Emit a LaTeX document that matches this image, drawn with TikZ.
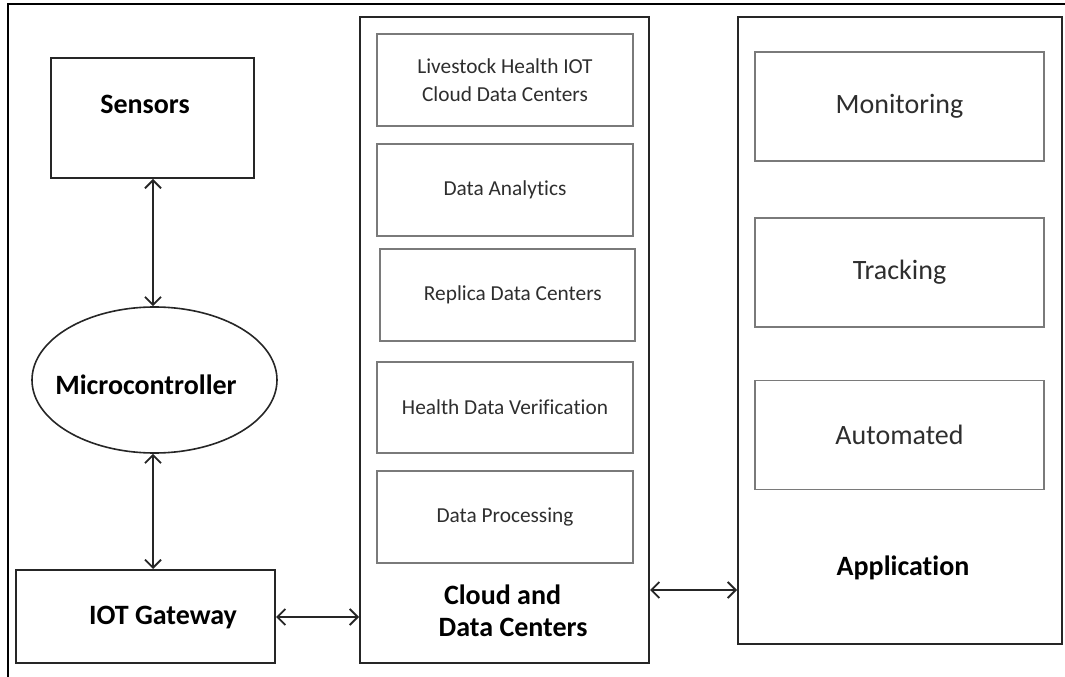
\documentclass[tikz,border=0pt]{standalone}
\usepackage{fontspec}
\setmainfont[Ligatures={NoCommon}]{Carlito}
\usepackage{tikz}
\usetikzlibrary{arrows.meta, shapes.geometric}

\definecolor{edgegray}{HTML}{262626}
\definecolor{innergray}{HTML}{7A7A7A}
\definecolor{txtgray}{HTML}{2E2E2E}

\tikzset{
  outerbox/.style={draw=edgegray, line width=1.5pt, rectangle, inner sep=0pt},
  innerbox/.style={draw=innergray, line width=1.1pt, rectangle, inner sep=0pt,
                   text=txtgray, align=center},
  bigtxt/.style={font=\fontsize{21}{24}\selectfont\bfseries, text=black},
  cloudtxt/.style={font=\fontsize{16}{21}\selectfont},
  apptxt/.style={font=\fontsize{21}{24}\selectfont},
  link/.style={<->, >={Straight Barb[length=6pt, width=12pt, line width=1.4pt]},
               draw=edgegray, line width=1.5pt}
}

\begin{document}
\begin{tikzpicture}[x=0.75pt, y=-0.75pt]
  \useasboundingbox (0,0) rectangle (1065,677);
  % frame
  \draw[black, line width=1.5pt] (8,677) -- (8,4) -- (1065,4);

  % left column
  \node[outerbox, minimum width=152.25pt, minimum height=90pt] (sensors) at (152.5,118) {};
  \node[bigtxt] (sensorslbl) at (145,104) {Sensors};
  \node[outerbox, ellipse, line width=1.2pt, minimum width=183.75pt, minimum height=109.5pt] (micro) at (154.5,380) {};
  \node[bigtxt] (microlbl) at (146,385) {Microcontroller};
  \node[outerbox, minimum width=194.25pt, minimum height=69.75pt] (gateway) at (145.5,616.5) {};
  \node[bigtxt] (gatewaylbl) at (163,618) {IOT Gateway};

  % cloud column
  \node[outerbox, minimum width=216.75pt, minimum height=484.5pt] (cloud) at (504.5,340) {};
  \node[innerbox, cloudtxt, minimum width=192pt, minimum height=69pt] (lhc) at (505,80)
       {Livestock Health IOT\\Cloud Data Centers};
  \node[innerbox, cloudtxt, minimum width=192pt, minimum height=69pt] (analytics) at (505,190) {Data Analytics};
  \node[innerbox, cloudtxt, minimum width=191.25pt, minimum height=69pt] (replica) at (507.5,295) {\hspace{8pt}Replica Data Centers};
  \node[innerbox, cloudtxt, minimum width=192pt, minimum height=68.25pt] (verify) at (505,407.5) {Health Data Verification};
  \node[innerbox, cloudtxt, minimum width=192pt, minimum height=69pt] (process) at (505,517) {Data Processing};
  \node[bigtxt, align=left, anchor=west] (cloudlbl) at (434,611) {\hspace{4pt}Cloud and\\Data Centers};

  % application column
  \node[outerbox, minimum width=243pt, minimum height=470.25pt] (app) at (900,330.5) {};
  \node[innerbox, apptxt, minimum width=216.75pt, minimum height=81.75pt] (monitor) at (899.5,106.5) {Monitoring};
  \node[innerbox, apptxt, minimum width=216.75pt, minimum height=81.75pt] (track) at (899.5,272.5) {Tracking};
  \node[innerbox, apptxt, minimum width=216.75pt, minimum height=81.75pt] (auto) at (899.5,435) {Automated};
  \node[bigtxt] (applbl) at (903,568) {Application};

  % connectors
  \draw[link] (sensors.south -| 153,0) -- (micro.north -| 153,0);
  \draw[link] (micro.south -| 153,0) -- (gateway.north -| 153,0);
  \draw[link] (gateway.east |- 0,617) -- (cloud.west |- 0,617);
  \draw[link] (cloud.east |- 0,590) -- (app.west |- 0,590);
\end{tikzpicture}
\end{document}
